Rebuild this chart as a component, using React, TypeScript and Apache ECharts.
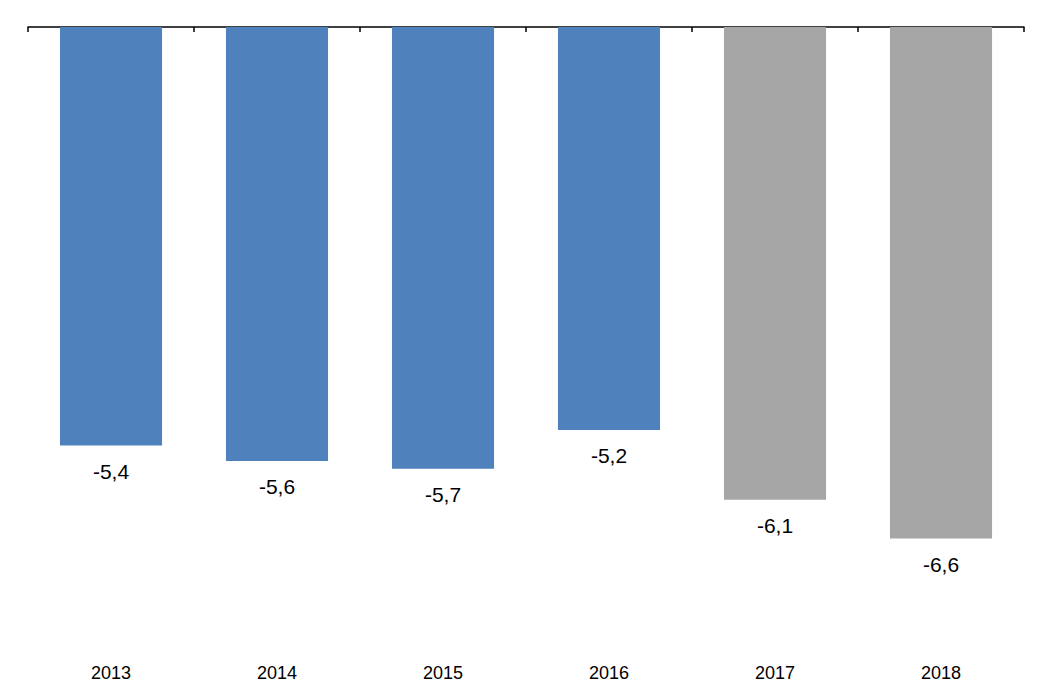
import React, { useEffect, useRef } from "react";
import * as echarts from "echarts";

const categories = ["2013", "2014", "2015", "2016", "2017", "2018"];
const values = [-5.4, -5.6, -5.7, -5.2, -6.1, -6.6];
const barColors = ["#4F81BD", "#4F81BD", "#4F81BD", "#4F81BD", "#A6A6A6", "#A6A6A6"];

export default function App() {
  const ref = useRef<HTMLDivElement>(null);
  useEffect(() => {
    if (!ref.current) return;
    const chart = echarts.init(ref.current, null, { renderer: "svg" });
    chart.setOption({
      animation: false,
      grid: { left: 20, right: 20, top: 19, bottom: 42, containLabel: false },
      xAxis: [
        {
          type: "category",
          data: categories,
          position: "top",
          axisLine: { show: true, lineStyle: { color: "#000", width: 1.5 } },
          axisTick: { show: true, inside: true, length: 5, lineStyle: { color: "#000", width: 1.5 } },
          axisLabel: { show: false },
        },
        {
          type: "category",
          data: categories,
          position: "bottom",
          axisLine: { show: false },
          axisTick: { show: false },
          axisLabel: {
            show: true,
            margin: 17,
            fontFamily: "Liberation Sans, Arial, sans-serif",
            fontSize: 18,
            color: "#000",
          },
        },
      ],
      yAxis: {
        type: "value",
        min: -8,
        max: 0,
        show: false,
        splitLine: { show: false },
      },
      series: [
        {
          type: "bar",
          xAxisIndex: 0,
          barWidth: "61.5%",
          data: values.map((v, i) => ({ value: v, itemStyle: { color: barColors[i] } })),
          label: {
            show: true,
            position: "bottom",
            distance: 15,
            fontFamily: "Liberation Sans, Arial, sans-serif",
            fontSize: 21,
            color: "#000",
            formatter: (p: any) => String(p.value).replace(".", ","),
          },
        },
      ],
    });
    return () => chart.dispose();
  }, []);
  return <div ref={ref} style={{ width: 1036, height: 681 }} />;
}
